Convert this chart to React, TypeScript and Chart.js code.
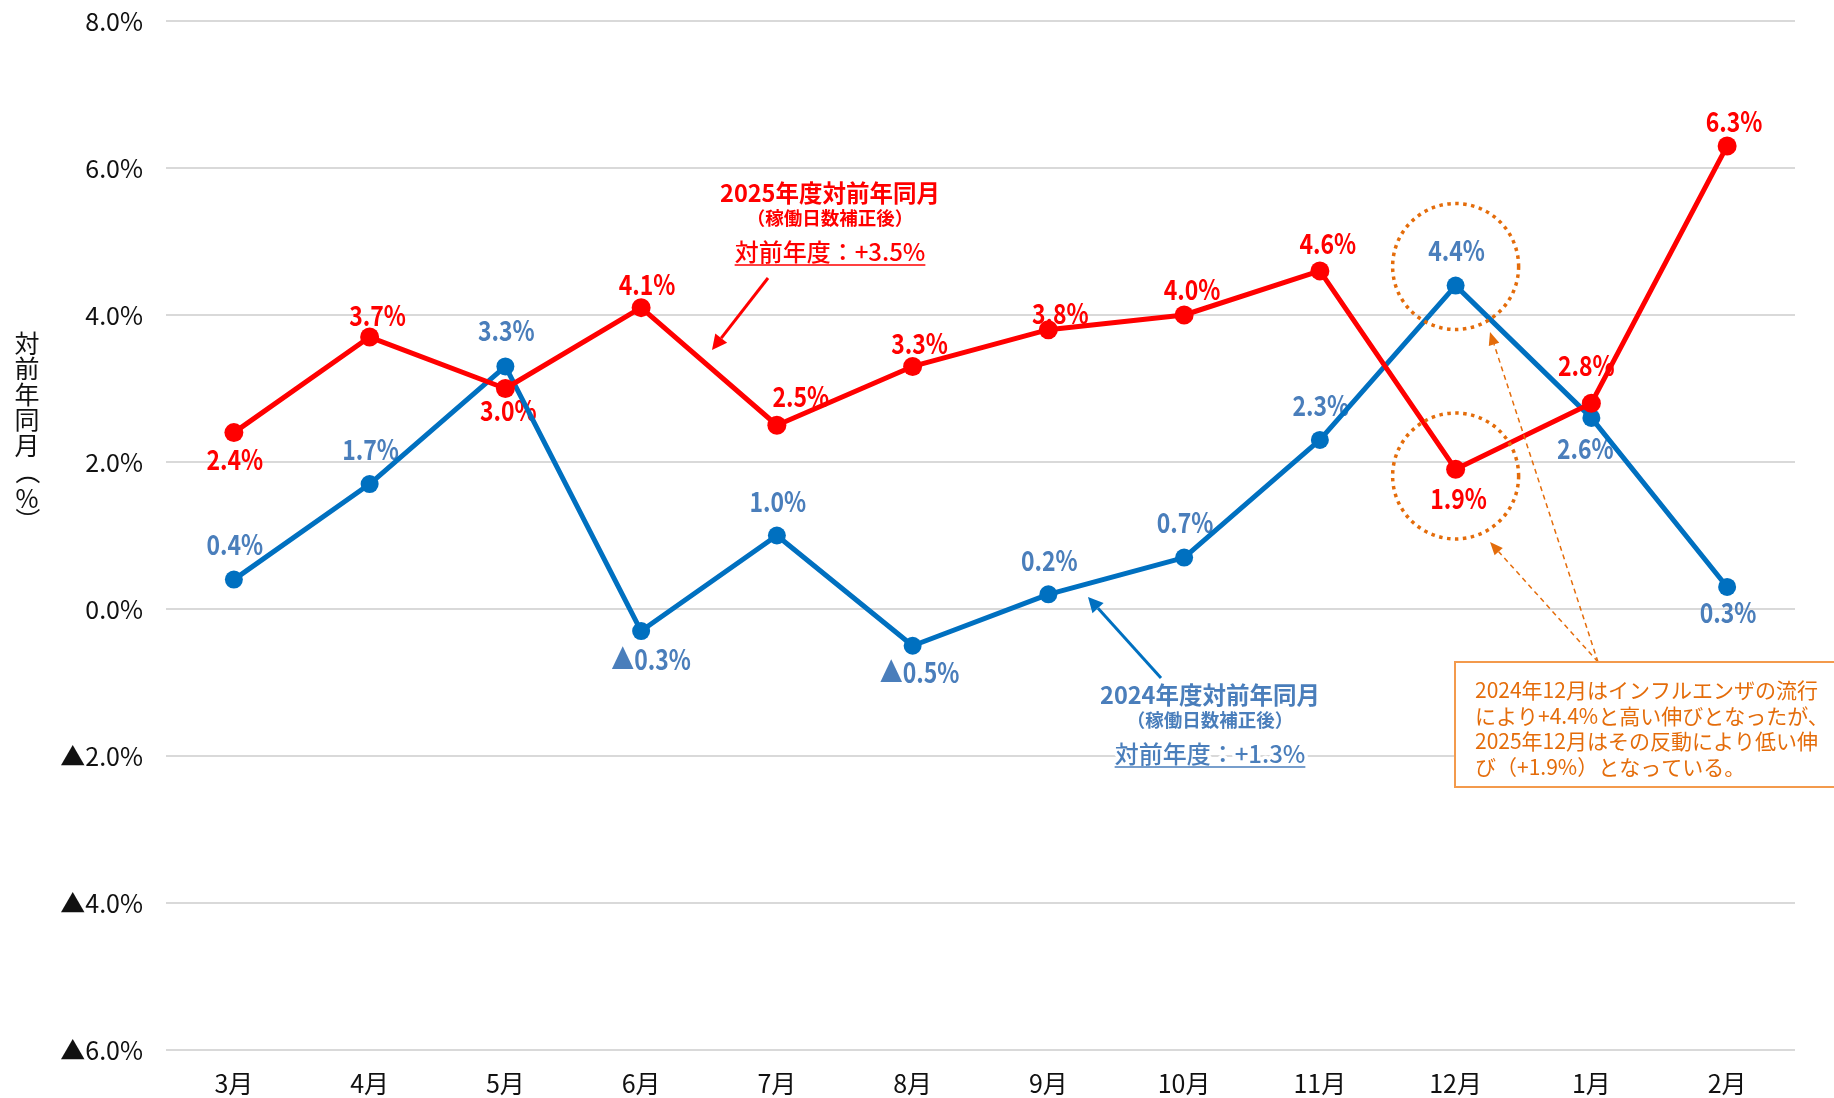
import React, { useEffect, useRef } from 'react';
import { Chart, registerables } from 'chart.js';

Chart.register(...registerables);

// ---------- data ----------
const months = ['3月', '4月', '5月', '6月', '7月', '8月', '9月', '10月', '11月', '12月', '1月', '2月'];
const fy2025 = [2.4, 3.7, 3.0, 4.1, 2.5, 3.3, 3.8, 4.0, 4.6, 1.9, 2.8, 6.3];
const fy2024 = [0.4, 1.7, 3.3, -0.3, 1.0, -0.5, 0.2, 0.7, 2.3, 4.4, 2.6, 0.3];
const yMin = -6;
const yMax = 8;
const yStep = 2;
const yTitle = '対前年同月（%）';
const fy2025Note = ['2025年度対前年同月', '（稼働日数補正後）', '対前年度：+3.5%'];
const fy2024Note = ['2024年度対前年同月', '（稼働日数補正後）', '対前年度：+1.3%'];
const boxNote = [
  '2024年12月はインフルエンザの流行',
  'により+4.4%と高い伸びとなったが、',
  '2025年12月はその反動により低い伸',
  'び（+1.9%）となっている。',
];

// ---------- label placement (layout, not data) ----------
const redLabelOffsets = [[1, 27], [8, -22], [3, 22], [6, -23], [24, -29], [7, -23], [12, -16], [8, -26], [8, -28], [3, 29], [-5, -38], [7, -25]];
const blueLabelOffsets = [[1, -35], [1, -35], [1, -36], [10, 28], [1, -34], [7, 27], [1, -34], [1, -35], [1, -35], [1, -35], [-6, 30], [1, 25]];

const FONT = '"Noto Sans CJK JP", "Noto Sans", sans-serif';
const RED = '#FF0000';
const BLUE = '#0070C0';
const BLUE_TEXT = '#4A7EBB';
const ORANGE = '#E46C0A';
const ORANGE_BORDER = '#F39A4C';

const fmt = (v: number) => (v < 0 ? '▲' + Math.abs(v).toFixed(1) + '%' : v.toFixed(1) + '%');

function drawValueLabel(ctx: CanvasRenderingContext2D, text: string, x: number, y: number, color: string) {
  ctx.save();
  ctx.translate(x, y);
  ctx.scale(0.82, 1);
  ctx.font = `bold 28px ${FONT}`;
  ctx.fillStyle = color;
  ctx.textAlign = 'center';
  ctx.textBaseline = 'middle';
  ctx.fillText(text, 0, 0);
  ctx.restore();
}

function drawArrow(
  ctx: CanvasRenderingContext2D,
  x1: number, y1: number, x2: number, y2: number,
  color: string, width: number, headLen: number, headHalf: number, dash: number[] = []
) {
  const ang = Math.atan2(y2 - y1, x2 - x1);
  const bx = x2 - Math.cos(ang) * headLen;
  const by = y2 - Math.sin(ang) * headLen;
  ctx.save();
  ctx.strokeStyle = color;
  ctx.fillStyle = color;
  ctx.lineWidth = width;
  ctx.setLineDash(dash);
  ctx.beginPath();
  ctx.moveTo(x1, y1);
  ctx.lineTo(bx, by);
  ctx.stroke();
  ctx.setLineDash([]);
  ctx.beginPath();
  ctx.moveTo(x2, y2);
  ctx.lineTo(bx + Math.sin(ang) * headHalf, by - Math.cos(ang) * headHalf);
  ctx.lineTo(bx - Math.sin(ang) * headHalf, by + Math.cos(ang) * headHalf);
  ctx.closePath();
  ctx.fill();
  ctx.restore();
}

function haloText(ctx: CanvasRenderingContext2D, text: string, x: number, y: number, font: string, color: string) {
  ctx.save();
  ctx.font = font;
  ctx.textAlign = 'center';
  ctx.textBaseline = 'middle';
  ctx.lineJoin = 'round';
  ctx.strokeStyle = 'rgba(255,255,255,0.95)';
  ctx.lineWidth = 7;
  ctx.strokeText(text, x, y);
  ctx.fillStyle = color;
  ctx.fillText(text, x, y);
  ctx.restore();
}

function drawSeriesNote(ctx: CanvasRenderingContext2D, lines: string[], cx: number, cy: number, color: string) {
  haloText(ctx, lines[0], cx, cy, `bold 23.5px ${FONT}`, color);
  haloText(ctx, lines[1], cx, cy + 25, `bold 18.5px ${FONT}`, color);
  const y3 = cy + 59;
  haloText(ctx, lines[2], cx, y3, `500 24px ${FONT}`, color);
  ctx.save();
  ctx.font = `500 24px ${FONT}`;
  const w = ctx.measureText(lines[2]).width;
  ctx.strokeStyle = color;
  ctx.lineWidth = 1.6;
  ctx.beginPath();
  ctx.moveTo(cx - w / 2, y3 + 13);
  ctx.lineTo(cx + w / 2, y3 + 13);
  ctx.stroke();
  ctx.restore();
}

const overlayPlugin = {
  id: 'overlay',
  beforeDatasetsDraw(chart: any) {
    const ctx: CanvasRenderingContext2D = chart.ctx;
    const redMeta = chart.getDatasetMeta(0);
    const blueMeta = chart.getDatasetMeta(1);
    fy2025.forEach((v, i) => {
      const p = redMeta.data[i];
      const [dx, dy] = redLabelOffsets[i];
      drawValueLabel(ctx, fmt(v), p.x + dx, p.y + dy, RED);
    });
    fy2024.forEach((v, i) => {
      const p = blueMeta.data[i];
      const [dx, dy] = blueLabelOffsets[i];
      drawValueLabel(ctx, fmt(v), p.x + dx, p.y + dy, BLUE_TEXT);
    });
  },
  afterDatasetsDraw(chart: any) {
    const ctx: CanvasRenderingContext2D = chart.ctx;
    const xs = chart.scales.x;
    const ys = chart.scales.y;

    // vertical axis title
    ctx.save();
    ctx.font = `25px ${FONT}`;
    ctx.fillStyle = '#111';
    ctx.textAlign = 'center';
    ctx.textBaseline = 'middle';
    const tx = 27;
    const centers = [343, 368.5, 394, 419.5, 445, 472, 498, 520];
    Array.from(yTitle).forEach((ch, i) => {
      const cy = centers[i];
      if (ch === '（' || ch === '）') {
        ctx.save();
        ctx.translate(tx, cy);
        ctx.rotate(Math.PI / 2);
        ctx.fillText(ch, 0, 0);
        ctx.restore();
      } else {
        ctx.fillText(ch, tx, cy);
      }
    });
    ctx.restore();

    // dotted circles around Dec points
    const cx12 = xs.getPixelForValue(9);
    ctx.save();
    ctx.strokeStyle = ORANGE;
    ctx.lineWidth = 3.5;
    ctx.setLineDash([3.5, 4.5]);
    [4.66, 1.81].forEach((v) => {
      ctx.beginPath();
      ctx.arc(cx12, ys.getPixelForValue(v), 63, 0, Math.PI * 2);
      ctx.stroke();
    });
    ctx.restore();

    // arrows for series notes
    drawArrow(ctx, 768, 278, 712, 350, RED, 3, 15, 7.5);
    drawArrow(ctx, 1161, 678, 1088, 597, BLUE, 3, 15, 7.5);

    // series notes
    drawSeriesNote(ctx, fy2025Note, 830, 193, RED);
    drawSeriesNote(ctx, fy2024Note, 1210, 695, BLUE_TEXT);

    // dashed callout arrows
    drawArrow(ctx, 1598, 662, 1490, 332, ORANGE, 1.5, 13, 5.5, [5, 4]);
    drawArrow(ctx, 1598, 662, 1490, 542, ORANGE, 1.5, 13, 5.5, [5, 4]);

    // note box
    ctx.save();
    ctx.fillStyle = '#FFFFFF';
    ctx.fillRect(1455, 662, 400, 125);
    ctx.strokeStyle = ORANGE_BORDER;
    ctx.lineWidth = 2;
    ctx.strokeRect(1455, 662, 400, 125);
    ctx.font = `21px ${FONT}`;
    ctx.fillStyle = ORANGE;
    ctx.textAlign = 'left';
    ctx.textBaseline = 'middle';
    boxNote.forEach((line, i) => ctx.fillText(line, 1475, 690 + i * 25.7));
    ctx.restore();
  },
};

export default function App() {
  const ref = useRef<HTMLCanvasElement>(null);
  useEffect(() => {
    const canvas = ref.current;
    if (!canvas) return;
    const chart = new Chart(canvas, {
      type: 'line',
      data: {
        labels: months,
        datasets: [
          {
            label: '2025年度',
            data: fy2025,
            borderColor: RED,
            backgroundColor: RED,
            borderWidth: 5,
            pointRadius: 9.5,
            pointBackgroundColor: RED,
            pointBorderWidth: 0,
            tension: 0,
            borderJoinStyle: 'round',
          },
          {
            label: '2024年度',
            data: fy2024,
            borderColor: BLUE,
            backgroundColor: BLUE,
            borderWidth: 5,
            pointRadius: 9,
            pointBackgroundColor: BLUE,
            pointBorderWidth: 0,
            tension: 0,
            borderJoinStyle: 'round',
          },
        ],
      },
      options: {
        responsive: false,
        animation: false,
        devicePixelRatio: 1,
        layout: { padding: { top: 0, right: 39, left: 0, bottom: 0 } },
        plugins: { legend: { display: false }, tooltip: { enabled: false } },
        scales: {
          x: {
            offset: true,
            grid: { display: false, drawTicks: false },
            border: { display: false },
            ticks: { color: '#111', font: { family: FONT, size: 25 }, padding: 18, maxRotation: 0 },
            afterFit: (s: any) => { s.height = 48; },
          },
          y: {
            min: yMin,
            max: yMax,
            grid: { color: '#D9D9D9', lineWidth: 2, drawTicks: false },
            border: { display: false },
            ticks: {
              stepSize: yStep,
              color: '#111',
              font: { family: FONT, size: 25 },
              padding: 23,
              callback: (v: any) => fmt(Number(v)),
            },
            afterFit: (s: any) => {
              s.width = 166;
              s.paddingTop = 21;
              s.paddingBottom = 0;
            },
          },
        },
      } as any,
      plugins: [overlayPlugin],
    });
    return () => chart.destroy();
  }, []);
  return (
    <div style={{ position: 'fixed', left: 0, top: 0, width: 1834, height: 1098, background: '#FFFFFF' }}>
      <canvas ref={ref} width={1834} height={1098} style={{ display: 'block', width: 1834, height: 1098 }} />
    </div>
  );
}
